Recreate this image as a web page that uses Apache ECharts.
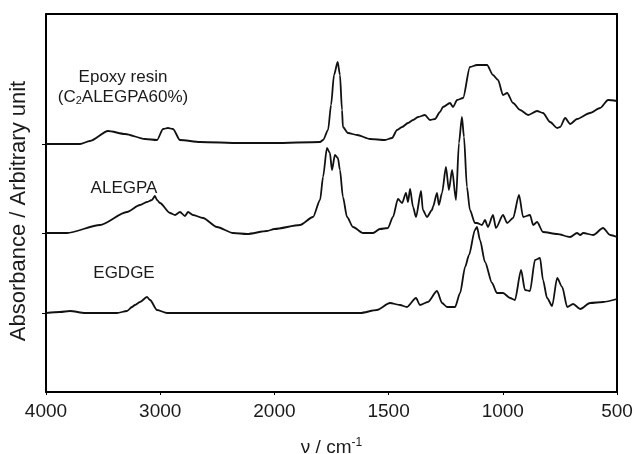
<!DOCTYPE html>
<html>
<head>
<meta charset="utf-8">
<style>
  html, body { margin: 0; padding: 0; background: #fff; }
  #chart { width: 634px; height: 454px; }
</style>
<script src="https://cdn.jsdelivr.net/npm/echarts@6/dist/echarts.min.js"></script>
</head>
<body>
<div id="chart"></div>
<script>
// FT-IR spectra, [wavenumber (cm-1), absorbance (arbitrary, stacked offset)]
const epoxyResin = [
  [4000,248],[3702,248],[3615,251],[3457,261],[3308,258],[3133,253],[3028,252],
  [2975,263],[2932,264],[2888,263],[2827,252],[2651,250],[2301,249],[2000,249],
  [1800,250],[1787,252],[1765,262],[1752,287],[1739,317],[1723,330],[1713,317],
  [1704,282],[1700,265],[1678,259],[1638,257],[1581,253],[1516,252],[1485,254],
  [1463,262],[1441,265],[1415,269],[1393,272],[1371,275],[1341,277],[1319,272],
  [1297,273],[1275,280],[1262,285],[1231,289],[1218,285],[1200,292],[1174,294],
  [1144,325],[1113,327],[1069,327],[1043,317],[1021,312],[999,297],[981,299],
  [955,289],[924,282],[889,277],[850,281],[824,279],[793,270],[762,264],
  [749,265],[727,274],[705,268],[675,273],[618,279],[574,284],[539,292],[500,291]
];
const alegpa = [
  [4000,159],[3816,159],[3527,167],[3291,180],[3177,187],[3116,190],[3072,192],
  [3046,196],[3028,192],[3002,189],[2914,179],[2870,177],[2827,180],[2783,176],
  [2756,180],[2713,177],[2625,174],[2503,165],[2362,159],[2240,158],[2065,161],
  [2000,163],[1888,167],[1831,175],[1800,192],[1787,215],[1770,244],[1757,239],
  [1748,222],[1735,237],[1722,234],[1713,222],[1700,195],[1682,175],[1656,165],
  [1612,159],[1568,159],[1538,163],[1503,164],[1481,175],[1459,193],[1441,189],
  [1424,199],[1415,190],[1406,203],[1393,185],[1380,175],[1358,201],[1350,182],
  [1332,175],[1310,182],[1306,185],[1288,199],[1280,187],[1266,199],[1249,225],
  [1236,202],[1222,222],[1205,192],[1192,249],[1179,275],[1170,255],[1157,205],
  [1144,182],[1122,169],[1113,169],[1091,167],[1078,172],[1065,165],[1043,177],
  [1030,164],[999,177],[981,169],[955,174],[929,197],[911,175],[881,177],
  [867,167],[850,170],[824,160],[762,158],[705,155],[675,159],[661,157],
  [648,159],[604,157],[561,164],[530,157],[500,155]
];
const egdge = [
  [4000,79],[3877,80],[3790,81],[3658,79],[3378,79],[3291,81],[3247,85],
  [3221,87],[3177,90],[3116,95],[3089,92],[3028,82],[2940,79],[2000,79],
  [1625,79],[1551,82],[1494,89],[1450,87],[1420,85],[1380,94],[1363,87],
  [1328,90],[1288,101],[1266,89],[1244,85],[1209,85],[1187,99],[1165,125],
  [1148,137],[1122,162],[1113,165],[1100,152],[1078,130],[1047,109],[1026,99],
  [999,99],[968,94],[947,92],[920,122],[903,102],[881,101],[859,132],
  [837,134],[824,112],[806,94],[784,86],[762,114],[740,105],[718,85],
  [692,88],[661,83],[618,89],[561,90],[500,93]
];

// baseline of each trace, marked on the absorbance axis
const baselineTicks = [79, 159, 248];
// wavenumber tick labels; the scale doubles below 2000 cm-1
const waveTicks = [4000, 3000, 2000, 1500, 1000, 500];

// piecewise wavenumber -> axis position (0..5)
function toAxis(w) {
  return w >= 2000 ? (4000 - w) / 1000 : 2 + (2000 - w) / 500;
}
function mapSpectrum(arr) {
  return arr.map(p => [toAxis(p[0]), p[1]]);
}

const FONT = 'Liberation Sans, Arial, Helvetica, sans-serif';
const TXT = '#1a1a1a';

function lineSeries(name, arr) {
  return {
    name: name,
    type: 'line',
    data: mapSpectrum(arr),
    showSymbol: false,
    smooth: 0.25,
    smoothMonotone: 'x',
    lineStyle: { color: '#111', width: 1.8 },
    silent: true
  };
}

// plain frame line for the top and right edges
const frameAxis = {
  axisLine: { show: true, onZero: false, lineStyle: { color: '#000', width: 2 } },
  axisTick: { show: false },
  axisLabel: { show: false },
  splitLine: { show: false }
};

function label(text, x, y, extra) {
  return {
    type: 'text', x: x, y: y, silent: true,
    style: Object.assign({
      text: text, font: '17px ' + FONT, fill: TXT,
      align: 'center', verticalAlign: 'middle'
    }, extra || {})
  };
}

const chart = echarts.init(document.getElementById('chart'));
chart.setOption({
  animation: false,
  backgroundColor: '#fff',
  grid: { left: 46, right: 17, top: 14, bottom: 62, outerBoundsMode: 'none', containLabel: false },
  xAxis: [{
    type: 'value',
    min: 0, max: 5, interval: 1,
    name: 'ν / cm{sup|-1}',
    nameLocation: 'middle',
    nameGap: 45,
    nameTextStyle: {
      fontFamily: FONT, fontSize: 19, color: TXT,
      rich: { sup: { fontFamily: FONT, fontSize: 12, color: TXT, verticalAlign: 'top', padding: [0, 0, 9, 0] } }
    },
    axisLine: { show: true, onZero: false, lineStyle: { color: '#000', width: 2 } },
    axisTick: { show: true, length: 3, lineStyle: { color: '#000', width: 1 } },
    axisLabel: {
      margin: 10,
      fontFamily: FONT, fontSize: 19, color: TXT,
      formatter: v => String(waveTicks[Math.round(v)])
    },
    splitLine: { show: false }
  }, Object.assign({ type: 'value', position: 'top', min: 0, max: 5 }, frameAxis)],
  yAxis: [{
    type: 'value',
    min: 0, max: 378,
    name: 'Absorbance / Arbitrary unit',
    nameLocation: 'middle',
    nameGap: 16,
    nameTextStyle: { fontFamily: FONT, fontSize: 22, color: TXT, padding: [0, 16, 0, 0] },
    axisLine: { show: true, onZero: false, lineStyle: { color: '#000', width: 2 } },
    axisTick: { show: true, length: 4, customValues: baselineTicks, lineStyle: { color: '#000', width: 1 } },
    axisLabel: { show: false },
    splitLine: { show: false }
  }, Object.assign({ type: 'value', position: 'right', min: 0, max: 378 }, frameAxis)],
  series: [
    lineSeries('Epoxy resin', epoxyResin),
    lineSeries('ALEGPA', alegpa),
    lineSeries('EGDGE', egdge)
  ],
  graphic: [
    label('Epoxy resin', 123, 77),
    label('(C{sub|2}ALEGPA60%)', 123, 97, {
      rich: { sub: { fontSize: 11, fontFamily: FONT, fill: TXT, verticalAlign: 'bottom', padding: [7, 0, 0, 0] } }
    }),
    label('ALEGPA', 124, 188),
    label('EGDGE', 124, 273)
  ]
});
</script>
</body>
</html>
